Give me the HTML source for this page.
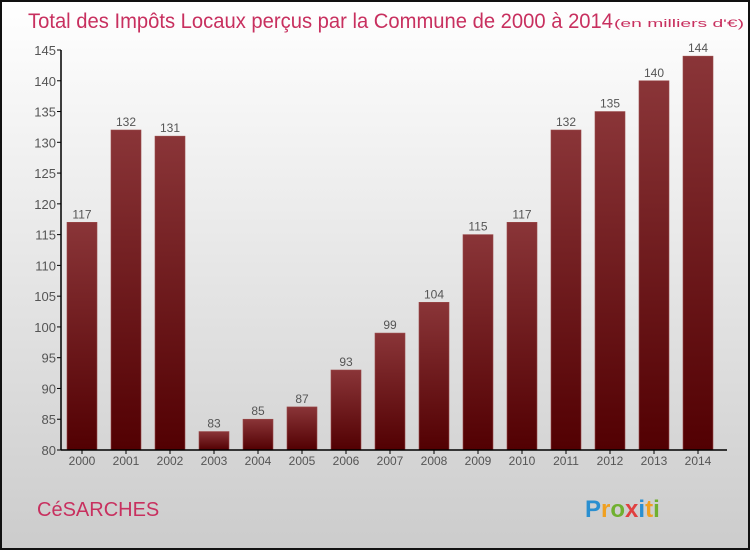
<!DOCTYPE html>
<html><head><meta charset="utf-8"><style>
body{margin:0}
#c{width:750px;height:550px;position:relative;box-sizing:border-box;border:2px solid #111;background:linear-gradient(#ffffff,#cccccc);font-family:"Liberation Sans",sans-serif;overflow:hidden}
</style></head><body>
<div id="c">
<svg width="746" height="546" style="position:absolute;left:0;top:0" id="svg" font-family="Liberation Sans, sans-serif">
<defs><linearGradient id="g" x1="0" y1="0" x2="0" y2="1"><stop offset="0" stop-color="#8a3538"/><stop offset="1" stop-color="#520002"/></linearGradient></defs>
<text x="26" y="26" font-size="21" fill="#c8305f" textLength="585" lengthAdjust="spacingAndGlyphs">Total des Impôts Locaux perçus par la Commune de 2000 à 2014</text>
<text x="612" y="25" font-size="11" fill="#c8305f" textLength="130" lengthAdjust="spacingAndGlyphs">(en milliers d'€)</text>
<text x="35" y="514" font-size="20" fill="#c8305f" font-weight="300">CéSARCHES</text>
<text x="583" y="515" font-size="24" font-weight="bold"><tspan fill="#2a8fd0">P</tspan><tspan fill="#f0a020">r</tspan><tspan fill="#70b030">o</tspan><tspan fill="#e04040">x</tspan><tspan fill="#2a8fd0">i</tspan><tspan fill="#f0a020">t</tspan><tspan fill="#70b030">i</tspan></text>
<g id="plot"></g>
</svg>
</div>
<script>
const years=["2000","2001","2002","2003","2004","2005","2006","2007","2008","2009","2010","2011","2012","2013","2014"];
const values=[117,132,131,83,85,87,93,99,104,115,117,132,135,140,144];
const yTicks=[80,85,90,95,100,105,110,115,120,125,130,135,140,145];
const NS="http://www.w3.org/2000/svg";
const g=document.getElementById('plot');
const ox=-2,oy=-2;
function y(v){return 450+oy-(v-80)*(400/65);}
function x(i){return 82+ox+i*44;}
function mk(t,a){const e=document.createElementNS(NS,t);for(const k in a)e.setAttribute(k,a[k]);g.appendChild(e);return e;}
yTicks.forEach(v=>{
 const l=mk('line',{x1:57+ox,x2:61+ox,y1:y(v),y2:y(v),stroke:'#000'});
 
 
 const t=mk('text',{x:56+ox,y:y(v)+5,'text-anchor':'end','font-size':13,fill:'#555'});
 t.textContent=v;
 
 
});
values.forEach((v,i)=>{
 const r=mk('rect',{x:x(i)-15,y:y(v),width:30,height:y(80)-y(v),fill:'url(#g)',stroke:'#9a4a4a','stroke-width':0.6});
 
 
 const t=mk('text',{x:x(i),y:y(v)-4,'text-anchor':'middle','font-size':12,fill:'#555'});
 t.textContent=v;
 
 
 const tl=mk('line',{x1:x(i),x2:x(i),y1:y(80),y2:y(80)+4,stroke:'#000'});
 
 
 const xl=mk('text',{x:x(i),y:y(80)+15,'text-anchor':'middle','font-size':12,fill:'#555'});
 xl.textContent=years[i];
 
 
});
const ya=mk('line',{x1:61+ox,x2:61+ox,y1:y(145),y2:y(80),stroke:'#000','stroke-width':1.5});


const xa=mk('line',{x1:61+ox,x2:727+ox,y1:y(80),y2:y(80),stroke:'#000','stroke-width':1.5});


</script>
</body></html>
